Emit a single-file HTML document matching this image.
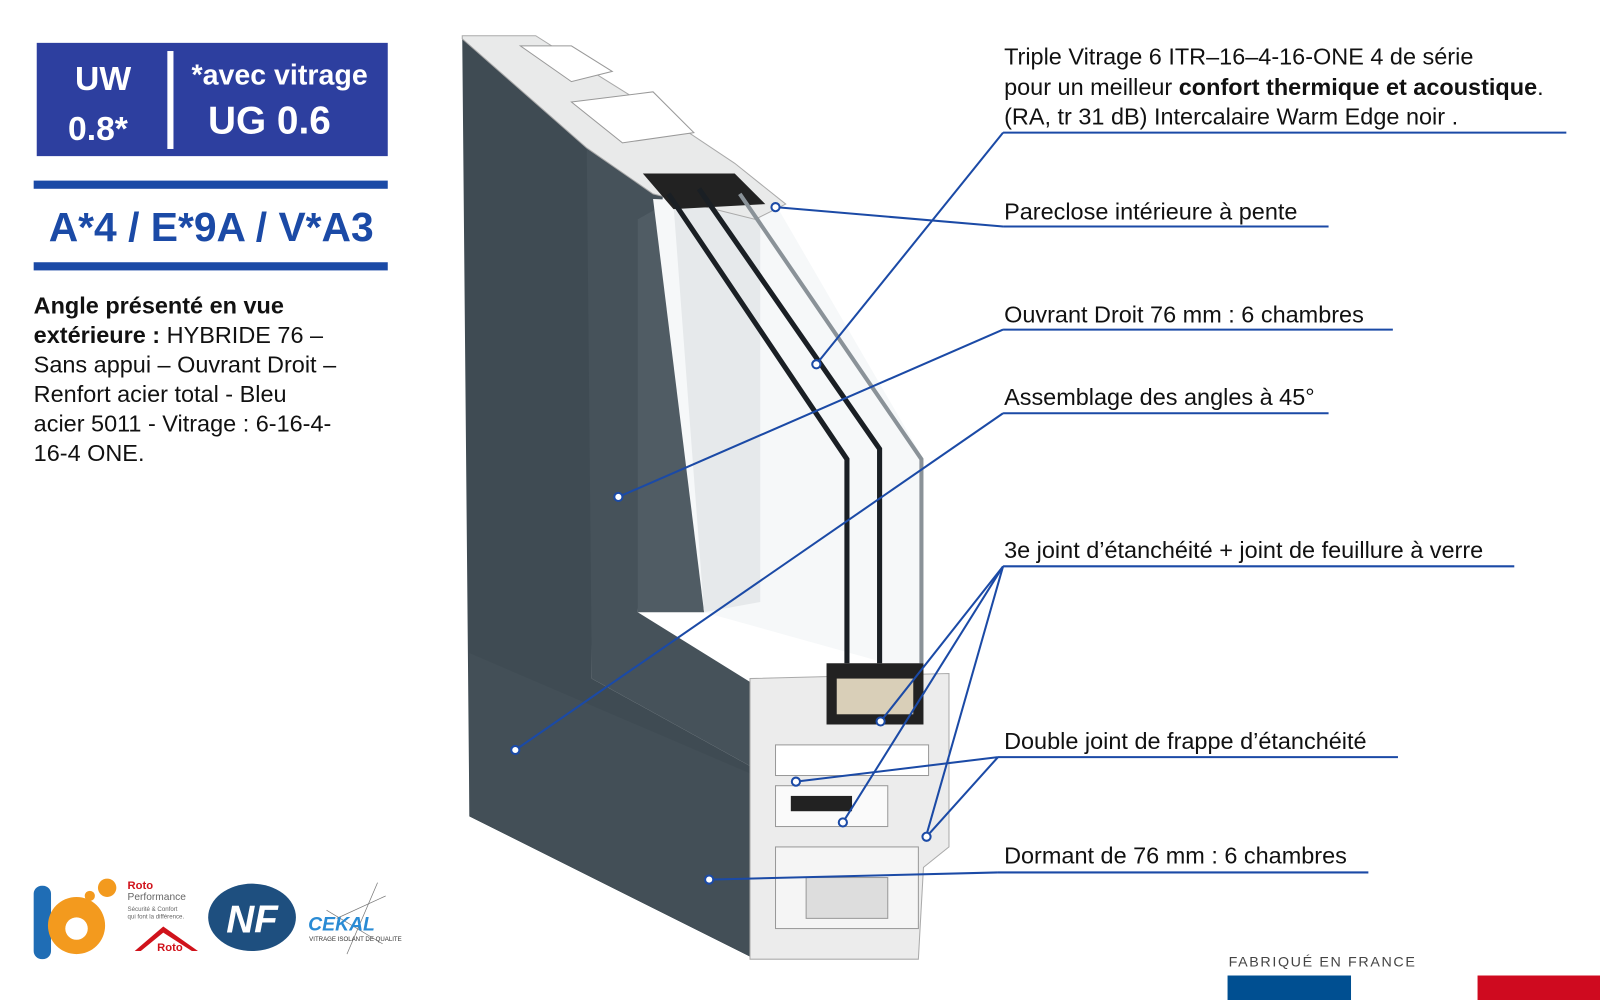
<!DOCTYPE html>
<html><head><meta charset="utf-8"><style>
html,body{margin:0;padding:0;background:#fff;width:1600px;height:1000px;overflow:hidden}
svg{display:block}
text{font-family:"Liberation Sans",sans-serif}
</style></head><body>
<svg width="1600" height="1000" viewBox="0 0 1568 980" preserveAspectRatio="none" xmlns="http://www.w3.org/2000/svg">
<rect width="1568" height="980" fill="#fff"/>
<!-- header box -->
<rect x="36" y="42" width="344" height="111" fill="#2d3f9f"/>
<rect x="164" y="50" width="6" height="96" fill="#fff"/>
<text x="101" y="88" fill="#fff" font-size="33" font-weight="bold" text-anchor="middle">UW</text>
<text x="96" y="137" fill="#fff" font-size="33" font-weight="bold" text-anchor="middle">0.8*</text>
<text x="274" y="83" fill="#fff" font-size="28" font-weight="bold" text-anchor="middle">*avec vitrage</text>
<text x="264" y="131" fill="#fff" font-size="38" font-weight="bold" text-anchor="middle">UG 0.6</text>
<rect x="33" y="177" width="347" height="8" fill="#1b4aa6"/>
<rect x="33" y="257" width="347" height="8" fill="#1b4aa6"/>
<text x="207" y="236" fill="#1b4aa6" font-size="40" font-weight="bold" text-anchor="middle">A*4 / E*9A / V*A3</text>
<g font-size="23" fill="#111">
<text x="33" y="307"><tspan font-weight="bold">Angle présenté en vue</tspan></text>
<text x="33" y="336"><tspan font-weight="bold">extérieure :</tspan> HYBRIDE 76 –</text>
<text x="33" y="365">Sans appui – Ouvrant Droit –</text>
<text x="33" y="394">Renfort acier total - Bleu</text>
<text x="33" y="423">acier 5011 - Vitrage : 6-16-4-</text>
<text x="33" y="452">16-4 ONE.</text>
</g>
<!-- window drawing -->
<polygon points="453,38 580,145 580,665 770,770 740,940 460,800" fill="#3f4b53"/>
<polygon points="575,145 650,185 625,600 770,690 770,770 580,665" fill="#46525a"/>
<polygon points="625,215 660,195 690,600 625,600" fill="#505c64"/>
<polygon points="640,195 760,200 905,450 905,660 690,600" fill="#f6f8f9"/>
<polygon points="660,200 745,205 745,590 690,600" fill="#e6e9eb"/>
<polygon points="460,640 740,760 740,940 460,800" fill="#434f57"/>
<!-- top cross-section -->
<polygon points="453,35 525,35 580,70 660,120 720,160 770,200 740,215 640,190 575,145 453,38" fill="#e9eaea" stroke="#aaa" stroke-width="1"/>
<polygon points="510,45 560,45 600,70 560,80" fill="#fff" stroke="#999"/>
<polygon points="560,100 640,90 680,130 610,140" fill="#fff" stroke="#999"/>
<polygon points="630,170 720,170 750,200 660,205" fill="#222"/>
<!-- glass lines -->
<g stroke="#1a1f24" stroke-width="5" fill="none">
<polyline points="655,190 830,450 830,650"/>
<polyline points="685,185 862,440 862,650"/>
</g>
<g stroke="#8a9298" stroke-width="4" fill="none">
<polyline points="725,190 903,450 903,650"/>
</g>
<!-- bottom cross-section -->
<polygon points="735,665 930,660 930,830 905,850 900,940 735,940" fill="#ececec" stroke="#aaa"/>
<rect x="810" y="650" width="95" height="60" fill="#222"/>
<rect x="820" y="665" width="75" height="35" fill="#d9cfb8"/>
<rect x="760" y="730" width="150" height="30" fill="#fff" stroke="#999"/>
<rect x="760" y="770" width="110" height="40" fill="#fafafa" stroke="#999"/>
<rect x="775" y="780" width="60" height="15" fill="#222"/>
<rect x="760" y="830" width="140" height="80" fill="#f5f5f5" stroke="#999"/>
<rect x="790" y="860" width="80" height="40" fill="#ddd" stroke="#999"/>
<!-- connectors -->
<g stroke="#1b4aa6" stroke-width="2" fill="none">
<line x1="983" y1="130" x2="1535" y2="130"/>
<line x1="983" y1="130" x2="800" y2="357"/>
<line x1="983" y1="222" x2="1302" y2="222"/>
<line x1="983" y1="222" x2="760" y2="203"/>
<line x1="983" y1="323" x2="1365" y2="323"/>
<line x1="983" y1="323" x2="606" y2="487"/>
<line x1="983" y1="405" x2="1302" y2="405"/>
<line x1="983" y1="405" x2="505" y2="735"/>
<line x1="983" y1="555" x2="1484" y2="555"/>
<line x1="983" y1="555" x2="863" y2="707"/>
<line x1="983" y1="555" x2="826" y2="806"/>
<line x1="983" y1="555" x2="908" y2="818"/>
<line x1="978" y1="742" x2="1370" y2="742"/>
<line x1="978" y1="742" x2="780" y2="766"/>
<line x1="978" y1="742" x2="908" y2="820"/>
<line x1="978" y1="855" x2="1341" y2="855"/>
<line x1="978" y1="855" x2="695" y2="862"/>
</g>
<g stroke="#1b4aa6" stroke-width="2" fill="#fff">
<circle cx="800" cy="357" r="4"/><circle cx="760" cy="203" r="4"/><circle cx="606" cy="487" r="4"/>
<circle cx="505" cy="735" r="4"/><circle cx="863" cy="707" r="4"/><circle cx="826" cy="806" r="4"/>
<circle cx="780" cy="766" r="4"/><circle cx="908" cy="820" r="4"/><circle cx="695" cy="862" r="4"/>
</g>
<!-- labels -->
<g font-size="23" fill="#111">
<text x="984" y="63">Triple Vitrage 6 ITR–16–4-16-ONE 4 de série</text>
<text x="984" y="93">pour un meilleur <tspan font-weight="bold">confort thermique et acoustique</tspan>.</text>
<text x="984" y="122">(RA, tr 31 dB) Intercalaire Warm Edge noir .</text>
<text x="984" y="215">Pareclose intérieure à pente</text>
<text x="984" y="316">Ouvrant Droit 76 mm : 6 chambres</text>
<text x="984" y="397">Assemblage des angles à 45°</text>
<text x="984" y="547">3e joint d’étanchéité + joint de feuillure à verre</text>
<text x="984" y="734">Double joint de frappe d’étanchéité</text>
<text x="984" y="846">Dormant de 76 mm : 6 chambres</text>
</g>
<!-- logos -->
<rect x="33" y="868" width="17" height="72" rx="8" fill="#1f6db5"/>
<circle cx="75" cy="907" r="28" fill="#f39a1e"/>
<circle cx="75" cy="910" r="11" fill="#fff"/>
<circle cx="88" cy="878" r="5" fill="#f39a1e"/>
<circle cx="105" cy="870" r="9" fill="#f39a1e"/>
<text x="125" y="871" font-size="11" font-weight="bold" fill="#d0121b">Roto</text>
<text x="125" y="882" font-size="10" fill="#666">Performance</text>
<text x="125" y="893" font-size="6" fill="#666">Sécurité &amp; Confort</text>
<text x="125" y="900" font-size="6" fill="#666">qui font la différence.</text>
<polygon points="132,932 160,908 194,932 188,932 160,914 138,932" fill="#d0121b"/>
<text x="154" y="932" font-size="11" font-weight="bold" fill="#d0121b">Roto</text>
<ellipse cx="247" cy="899" rx="43" ry="33" fill="#1e4f7f"/>
<text x="247" y="914" font-size="38" font-weight="bold" font-style="italic" fill="#fff" text-anchor="middle">NF</text>
<g stroke="#777" stroke-width="0.7"><line x1="320" y1="892" x2="375" y2="925"/><line x1="370" y1="865" x2="340" y2="935"/><line x1="330" y1="900" x2="378" y2="878"/></g>
<text x="302" y="912" font-size="19" font-weight="bold" font-style="italic" fill="#2a8bd4">CEKAL</text>
<text x="303" y="922" font-size="6" fill="#333">VITRAGE ISOLANT DE QUALITE</text>
<!-- france -->
<text x="1204" y="947" font-size="14" letter-spacing="1.6" fill="#444">FABRIQUÉ EN FRANCE</text>
<rect x="1203" y="956" width="121" height="24" fill="#004f91"/>
<rect x="1448" y="956" width="120" height="24" fill="#cf0a1f"/>
</svg>
</body></html>
